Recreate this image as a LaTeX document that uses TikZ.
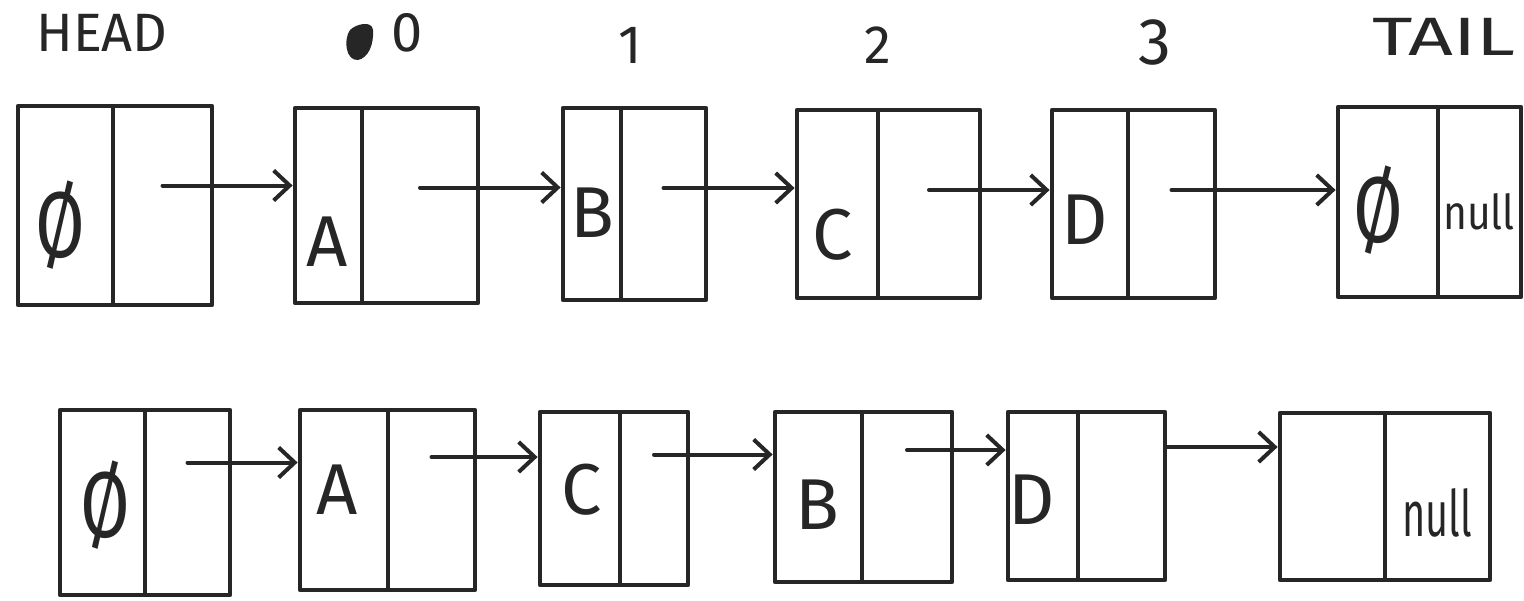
\documentclass[tikz,border=0pt]{standalone}
\usepackage{fontspec}
\setmainfont{Fira Sans}
\usetikzlibrary{arrows.meta,fit}
\tikzset{
  cell/.style={draw=black!85, line width=2.4pt, inner sep=0pt, line join=round},
  lbl/.style={inner sep=0pt, text=black!85, font=\fontsize{36}{36}\selectfont},
  nil/.style={inner sep=0pt, text=black!85, font=\fontsize{24}{24}\selectfont},
  hdr/.style={inner sep=0pt, text=black!85, font=\fontsize{27}{27}\selectfont},
  ptr/.style={draw=black!85, line width=2pt, line cap=round,
    -{Straight Barb[length=8pt,width=15pt,line width=2pt]}},
}
\newcommand\listnode[6]{% name, left, divider, right, top, bottom
  \node[cell, fit={(#2,#5) (#3,#6)}] (#1d) {};
  \node[cell, fit={(#3,#5) (#4,#6)}] (#1p) {};
}
\begin{document}
\begin{tikzpicture}[x=0.5pt,y=-0.5pt]
\useasboundingbox (0,0) rectangle (1524,600);
\fill[white] (0,0) rectangle (1524,600);

% headings
\node[hdr] (headlbl) at (102,33) {HEAD};
\fill[black!85] (350,30) .. controls (356,24) and (372,20) .. (373,30)
   .. controls (374,45) and (368,58) .. (358,60)
   .. controls (346,61) and (343,40) .. (350,30) -- cycle;
\node[hdr, font=\fontsize{28}{28}\selectfont] (i0) at (407,33) {0};
\node[hdr] (i1) at (630,45) {1};
\node[hdr] (i2) at (878,45) {2};
\node[hdr, font=\fontsize{33}{33}\selectfont] (i3) at (1155,42) {3};
\node[hdr, xscale=1.45] (taillbl) at (1444,37) {TAIL};

% top row
\listnode{t0}{18}{113}{212}{106}{305}
\listnode{t1}{295}{362}{478}{108}{303}
\listnode{t2}{563}{621}{706}{108}{300}
\listnode{t3}{797}{878}{980}{110}{298}
\listnode{t4}{1052}{1128}{1215}{110}{298}
\listnode{t5}{1338}{1438}{1521}{107}{297}

\node[lbl, yscale=1.3] (t0v) at (60,225) {Ø};
\node[lbl] (t1v) at (327,242) {A};
\node[lbl] (t2v) at (592,213) {B};
\node[lbl] (t3v) at (833,235) {C};
\node[lbl] (t4v) at (1085,220) {D};
\node[lbl, yscale=1.3] (t5v) at (1378,210) {Ø};
\node[nil, xscale=0.85] (t5n) at (1479,212) {null};

\draw[ptr] (t0p.center) ++(0,-20) coordinate (s0) -- (t1d.west |- s0);
\draw[ptr] (t1p.center) ++(0,-18) coordinate (s1) -- (t2d.west |- s1);
\draw[ptr] (t2p.center) ++(0,-16) coordinate (s2) -- (t3d.west |- s2);
\draw[ptr] (t3p.center) ++(0,-14) coordinate (s3) -- (t4d.west |- s3);
\draw[ptr] (t4p.center) ++(0,-14) coordinate (s4) -- (t5d.west |- s4);

% bottom row
\listnode{b0}{60}{145}{230}{410}{595}
\listnode{b1}{300}{388}{475}{410}{590}
\listnode{b2}{540}{620}{688}{412}{585}
\listnode{b3}{775}{862}{952}{412}{582}
\listnode{b4}{1008}{1078}{1165}{412}{580}
\listnode{b5}{1280}{1385}{1490}{413}{580}

\node[lbl, yscale=1.3] (b0v) at (105,505) {Ø};
\node[lbl] (b1v) at (337,490) {A};
\node[lbl] (b2v) at (582,490) {C};
\node[lbl] (b3v) at (817,505) {B};
\node[lbl] (b4v) at (1032,500) {D};
\node[nil, font=\fontsize{32}{32}\selectfont, xscale=0.62] (b5n) at (1437,513) {null};

\draw[ptr] (b0p.center) ++(0,-40) coordinate (u0) -- (b1d.west |- u0);
\draw[ptr] (b1p.center) ++(0,-43) coordinate (u1) -- (b2d.west |- u1);
\draw[ptr] (b2p.center) ++(0,-44) coordinate (u2) -- (b3d.west |- u2);
\draw[ptr] (b3p.center) ++(0,-47) coordinate (u3) -- (b4d.west |- u3);
\draw[ptr] (b4p.east) ++(0,-49) coordinate (u4) -- (b5d.west |- u4);
\end{tikzpicture}
\end{document}
